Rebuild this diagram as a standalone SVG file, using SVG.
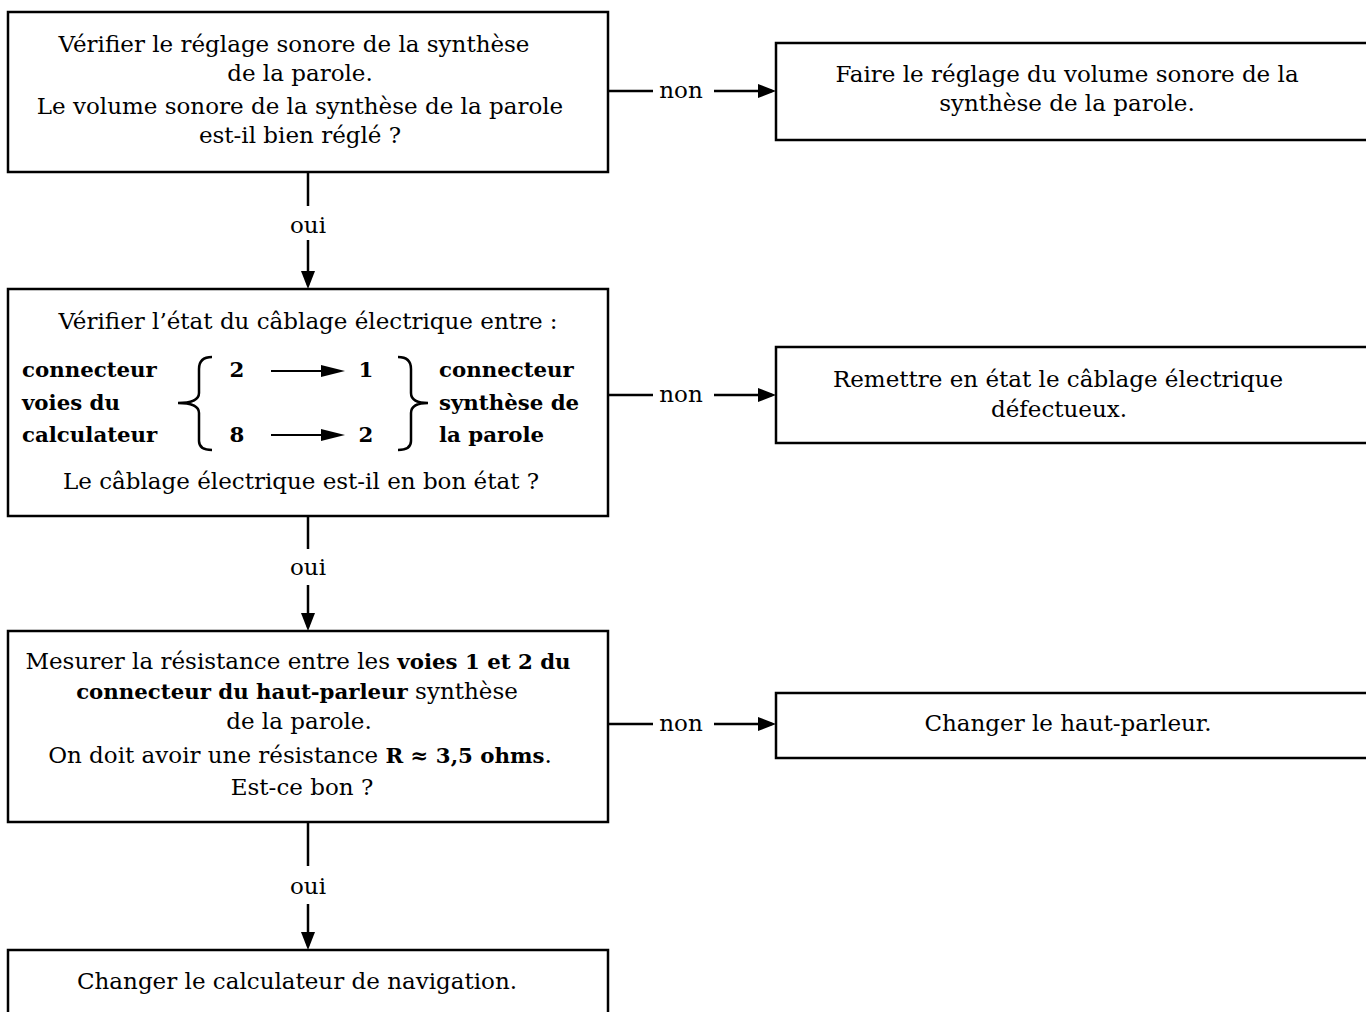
<svg xmlns="http://www.w3.org/2000/svg" width="1366" height="1012" viewBox="0 0 1366 1012">
<style>
  .box { fill: #fff; stroke: #000; stroke-width: 2.5; }
  .ln { stroke: #000; stroke-width: 2.5; fill: none; }
  .t { font-family: "DejaVu Serif", "Liberation Serif", serif; font-size: 23px; fill: #000; }
  .c { text-anchor: middle; }
  .b { font-weight: bold; font-size: 21.3px; }
</style>
<defs>
  <marker id="arr" viewBox="0 0 18 14" refX="14" refY="7" markerWidth="18" markerHeight="14" orient="auto" markerUnits="userSpaceOnUse">
    <path d="M0,0 L18,7 L0,14 z" fill="#000"/>
  </marker>
  <marker id="arrs" viewBox="0 0 24 12" refX="20" refY="6" markerWidth="24" markerHeight="12" orient="auto" markerUnits="userSpaceOnUse">
    <path d="M0,0 L24,6 L0,12 z" fill="#000"/>
  </marker>
</defs>
<rect width="1366" height="1012" fill="#fff"/>

<g id="connectors">
  <line class="ln" x1="308" y1="172" x2="308" y2="206"/>
  <text class="t c" x="308" y="233">oui</text>
  <line class="ln" x1="308" y1="240" x2="308" y2="285" marker-end="url(#arr)"/>
  <line class="ln" x1="308" y1="516" x2="308" y2="549"/>
  <text class="t c" x="308" y="575">oui</text>
  <line class="ln" x1="308" y1="585" x2="308" y2="627" marker-end="url(#arr)"/>
  <line class="ln" x1="308" y1="822" x2="308" y2="866"/>
  <text class="t c" x="308" y="894">oui</text>
  <line class="ln" x1="308" y1="904" x2="308" y2="946" marker-end="url(#arr)"/>

  <line class="ln" x1="608" y1="91" x2="653" y2="91"/>
  <text class="t c" x="681" y="98">non</text>
  <line class="ln" x1="714" y1="91" x2="772" y2="91" marker-end="url(#arr)"/>
  <line class="ln" x1="608" y1="395" x2="653" y2="395"/>
  <text class="t c" x="681" y="402">non</text>
  <line class="ln" x1="714" y1="395" x2="772" y2="395" marker-end="url(#arr)"/>
  <line class="ln" x1="608" y1="724" x2="653" y2="724"/>
  <text class="t c" x="681" y="731">non</text>
  <line class="ln" x1="714" y1="724" x2="772" y2="724" marker-end="url(#arr)"/>
</g>

<g id="node-1">
  <rect class="box" x="8" y="12" width="600" height="160"/>
  <text class="t c" x="294" y="52">Vérifier le réglage sonore de la synthèse</text>
  <text class="t c" x="300" y="81">de la parole.</text>
  <text class="t c" x="300" y="114">Le volume sonore de la synthèse de la parole</text>
  <text class="t c" x="300" y="143">est-il bien réglé ?</text>
</g>

<g id="node-1-non">
  <rect class="box" x="776" y="43" width="600" height="97"/>
  <text class="t c" x="1067" y="82">Faire le réglage du volume sonore de la</text>
  <text class="t c" x="1067" y="111">synthèse de la parole.</text>
</g>

<g id="node-2">
  <rect class="box" x="8" y="289" width="600" height="227"/>
  <text class="t c" x="308" y="329">Vérifier l’état du câblage électrique entre :</text>
  <text class="t b" x="22" y="377">connecteur</text>
  <text class="t b" x="22" y="410">voies du</text>
  <text class="t b" x="22" y="442">calculateur</text>
  <text class="t b" x="439" y="377">connecteur</text>
  <text class="t b" x="439" y="410">synthèse de</text>
  <text class="t b" x="439" y="442">la parole</text>
  <text class="t b c" x="237" y="377">2</text>
  <text class="t b c" x="366" y="377">1</text>
  <text class="t b c" x="237" y="442">8</text>
  <text class="t b c" x="366" y="442">2</text>
  <line class="ln" x1="271" y1="371" x2="341" y2="371" marker-end="url(#arrs)" style="stroke-width:2"/>
  <line class="ln" x1="271" y1="435" x2="341" y2="435" marker-end="url(#arrs)" style="stroke-width:2"/>
  <path class="ln" d="M212,357 C203,357 199,361 199,369 L199,393 C199,400 190,403 178,403 C190,403 199,406 199,413 L199,441 C199,447 203,450 212,450"/>
  <path class="ln" d="M398,357 C407,357 411,361 411,369 L411,393 C411,400 418,403 428,403 C418,403 411,406 411,413 L411,441 C411,447 407,450 398,450"/>
  <text class="t c" x="301" y="489">Le câblage électrique est-il en bon état ?</text>
</g>

<g id="node-2-non">
  <rect class="box" x="776" y="347" width="600" height="96"/>
  <text class="t c" x="1058" y="387">Remettre en état le câblage électrique</text>
  <text class="t c" x="1059" y="417">défectueux.</text>
</g>

<g id="node-3">
  <rect class="box" x="8" y="631" width="600" height="191"/>
  <text class="t c" x="298" y="669">Mesurer la résistance entre les <tspan class="b">voies 1 et 2 du</tspan></text>
  <text class="t c" x="297" y="699"><tspan class="b">connecteur du haut-parleur</tspan> synthèse</text>
  <text class="t c" x="299" y="729">de la parole.</text>
  <text class="t c" x="300" y="763">On doit avoir une résistance <tspan class="b">R ≈ 3,5 ohms</tspan>.</text>
  <text class="t c" x="302" y="795">Est-ce bon ?</text>
</g>

<g id="node-3-non">
  <rect class="box" x="776" y="693" width="600" height="65"/>
  <text class="t c" x="1068" y="731">Changer le haut-parleur.</text>
</g>

<g id="node-4">
  <rect class="box" x="8" y="950" width="600" height="80"/>
  <text class="t c" x="297" y="989">Changer le calculateur de navigation.</text>
</g>
</svg>
